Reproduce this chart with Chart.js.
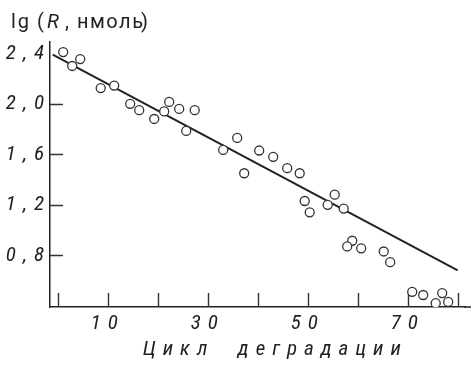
<!DOCTYPE html>
<html><head><meta charset="utf-8">
<script src="https://cdn.jsdelivr.net/npm/chart.js@4/dist/chart.umd.min.js"></script>
<style>html,body{margin:0;padding:0;background:#fff}</style>
</head><body>
<canvas id="c" width="471" height="365"></canvas>
<script>
// Data
const cycleX = [1.1, 4.5, 2.9, 8.6, 11.3, 14.5, 16.3, 19.3, 21.3, 22.3, 24.3, 27.4, 25.7,
  35.9, 33.1, 40.3, 43.1, 37.3, 45.9, 48.4, 49.4, 50.4, 54.0, 55.4, 57.2,
  58.9, 57.9, 60.7, 65.2, 66.5, 70.9, 73.1, 75.6, 76.9, 78.1];
const lgR = [2.41, 2.355, 2.30, 2.125, 2.145, 2.0, 1.95, 1.88, 1.94, 2.015, 1.96, 1.95, 1.785,
  1.73, 1.635, 1.63, 1.58, 1.45, 1.49, 1.45, 1.23, 1.14, 1.20, 1.28, 1.17,
  0.915, 0.87, 0.855, 0.83, 0.745, 0.51, 0.485, 0.42, 0.50, 0.43];
const fitLineX = [-1, 80];
const fitLineY = [2.39, 0.68];
const xTickValues = [0, 10, 20, 30, 40, 50, 60, 70, 80];
const xTickLabels = ['', '10', '', '30', '', '50', '', '70', ''];
const yTickValues = [0.8, 1.2, 1.6, 2.0, 2.4];
const yTickLabels = ['0,8', '1,2', '1,6', '2,0', '2,4'];
const yTitleParts = ['lg', '(', 'R', ',', 'нмоль', ')'];
const xTitle = '   Цикл  деградации';

const FONT = "Roboto, 'DejaVu Sans Condensed', sans-serif";
const INK = '#222';

const scatterPts = cycleX.map((x, i) => ({x, y: lgR[i]}));
const linePts = fitLineX.map((x, i) => ({x, y: fitLineY[i]}));

const decor = {
  id: 'decor',
  beforeDraw(chart) {
    chart.ctx.letterSpacing = '7px';
  },
  beforeDatasetsDraw(chart) {
    const {ctx, scales: {x, y}, chartArea} = chart;
    ctx.save();
    ctx.letterSpacing = '0px';
    ctx.strokeStyle = '#333';
    ctx.lineWidth = 1.4;
    ctx.beginPath();
    xTickValues.forEach(v => {
      const px = Math.round(x.getPixelForValue(v)) + 0.5;
      ctx.moveTo(px, chartArea.bottom);
      ctx.lineTo(px, chartArea.bottom - 14);
    });
    yTickValues.forEach(v => {
      if (v > 2.2) return;
      const py = Math.round(y.getPixelForValue(v)) + 0.5;
      ctx.moveTo(chartArea.left, py);
      ctx.lineTo(chartArea.left + 13, py);
    });
    ctx.stroke();
    // x axis line continues to the right edge of the figure
    ctx.strokeStyle = INK;
    ctx.lineWidth = 1.5;
    ctx.beginPath();
    ctx.moveTo(chartArea.right - 1, chartArea.bottom);
    ctx.lineTo(chart.width, chartArea.bottom);
    ctx.stroke();
    ctx.restore();
  },
  afterDraw(chart) {
    const ctx = chart.ctx;
    ctx.save();
    ctx.fillStyle = INK;
    ctx.textBaseline = 'alphabetic';
    ctx.textAlign = 'left';
    const base = 28;
    const xs = [11, 37, 47, 65, 77, 141];
    yTitleParts.forEach((t, i) => {
      ctx.font = (i === 2 ? 'italic ' : '') + '20px ' + FONT;
      ctx.letterSpacing = (i === 0 ? '2px' : i === 4 ? '1.5px' : '0px');
      ctx.fillText(t, xs[i], base);
    });
    ctx.restore();
  }
};

const tickFont = {family: FONT, size: 21, style: 'italic', weight: 'condensed'};

new Chart(document.getElementById('c'), {
  data: {
    datasets: [
      {
        type: 'scatter',
        data: scatterPts,
        pointRadius: 4.5,
        pointHoverRadius: 4.5,
        pointBorderWidth: 1.3,
        pointBorderColor: '#333',
        pointBackgroundColor: '#fff',
        order: 0
      },
      {
        type: 'line',
        data: linePts,
        borderColor: INK,
        borderWidth: 2,
        pointRadius: 0,
        fill: false,
        order: 1
      }
    ]
  },
  options: {
    responsive: false,
    animation: false,
    devicePixelRatio: 1,
    layout: {padding: {top: 42, right: 0, left: 0, bottom: 0}},
    plugins: {legend: {display: false}, tooltip: {enabled: false}, title: {display: false}},
    scales: {
      x: {
        type: 'linear',
        min: -1.54,
        max: 81.5,
        afterBuildTicks: s => { s.ticks = xTickValues.map(v => ({value: v})); },
        afterFit: s => { s.height = 58; s.paddingRight = 0; s.paddingLeft = 0; },
        grid: {display: false, drawTicks: false},
        border: {display: true, color: INK, width: 1.5},
        ticks: {
          color: INK,
          padding: 4,
          maxRotation: 0,
          autoSkip: false,
          font: tickFont,
          callback: v => { const i = xTickValues.indexOf(v); return i >= 0 ? xTickLabels[i] : ''; }
        },
        title: {
          display: true,
          text: xTitle,
          color: INK,
          padding: {top: 0, bottom: 3},
          font: {family: FONT, size: 21, style: 'italic', weight: 'condensed'}
        }
      },
      y: {
        type: 'linear',
        min: 0.39,
        max: 2.49,
        afterBuildTicks: s => { s.ticks = yTickValues.map(v => ({value: v})); },
        afterFit: s => { s.width = 50; s.paddingTop = 0; s.paddingBottom = 0; },
        grid: {display: false, drawTicks: false},
        border: {display: true, color: INK, width: 1.5},
        ticks: {
          color: INK,
          padding: -1,
          autoSkip: false,
          font: tickFont,
          callback: v => { const i = yTickValues.findIndex(t => Math.abs(t - v) < 1e-6); return i >= 0 ? yTickLabels[i] : ''; }
        }
      }
    }
  },
  plugins: [decor]
});
</script>
</body></html>
